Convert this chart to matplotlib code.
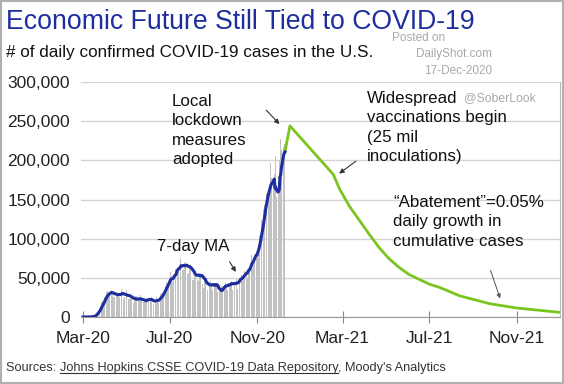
import datetime as dt
import numpy as np
import pandas as pd
import matplotlib
matplotlib.use("Agg")
import matplotlib.pyplot as plt
import matplotlib.dates as mdates
from matplotlib.ticker import FuncFormatter

plt.rcParams['font.family'] = ['Liberation Sans', 'DejaVu Sans']

# daily confirmed cases (thousands), Mar 1 - Dec 10 2020
mar = [0, 0, 0, 0, 0, 0, 0.1, 0.1, 0.2, 0.3,
       0.3, 0.5, 0.4, 0.8, 0.9, 1.2, 1.8, 2.8, 4.5, 5.6,
       6.9, 9.1, 10.5, 9.9, 12.0, 17.8, 18.7, 20.0, 19.5, 21.0,
       25.0]
apr = [27, 29, 32, 33, 26, 29, 31, 32, 34, 34,
       30, 27, 26, 26, 30, 31, 32, 28, 26, 28,
       26, 29, 32, 36, 33, 27, 23, 25, 27, 30]
may = [34, 29, 25, 23, 23, 25, 28, 28, 26, 20,
       18, 22, 21, 27, 27, 25, 19, 22, 20, 22,
       28, 24, 22, 19, 19, 19, 19, 23, 24, 26,
       23]
jun = [21, 21, 20, 21, 25, 24, 18, 17, 18, 21,
       22, 25, 25, 19, 18, 23, 27, 29, 31, 32,
       27, 30, 35, 38, 40, 45, 43, 42, 46, 47]
jul = [52, 57, 52, 44, 45, 50, 60, 62, 61, 63,
       66, 59, 58, 63, 67, 75, 71, 63, 60, 61,
       63, 69, 70, 74, 66, 55, 56, 60, 67, 68,
       68]
aug = [58, 47, 47, 52, 53, 59, 61, 54, 47, 46,
       55, 53, 51, 64, 55, 42, 37, 46, 47, 47,
       45, 44, 34, 36, 38, 44, 46, 46, 43, 35,
       34]
sep = [42, 39, 43, 53, 43, 32, 24, 25, 33, 36,
       47, 40, 34, 33, 37, 39, 45, 48, 42, 35,
       38, 40, 39, 45, 55, 46, 35, 36, 42, 41]
octo = [45, 54, 49, 36, 41, 44, 50, 58, 58, 53,
        46, 43, 53, 59, 64, 69, 56, 48, 58, 62,
        63, 76, 83, 79, 61, 66, 74, 79, 89, 99,
        81]
nov = [75, 85, 92, 104, 120, 128, 124, 108, 118, 138,
       143, 161, 178, 158, 137, 160, 162, 170, 187, 196,
       178, 144, 170, 176, 182, 106, 205, 153, 139, 156]
dec = [180, 200, 217, 227, 213, 176, 194, 217, 221, 227]

daily = np.array(mar + apr + may + jun + jul + aug + sep + octo + nov + dec) * 1000
days = pd.date_range('2020-03-01', periods=len(daily), freq='D')
ma7 = pd.Series(daily, index=days).rolling(7, min_periods=1).mean()

# Moody's projection
proj_dates = ['2020-12-10', '2020-12-17', '2021-02-16', '2021-02-25', '2021-03-11',
              '2021-03-25', '2021-04-08', '2021-04-22', '2021-05-06', '2021-05-20',
              '2021-06-03', '2021-06-17', '2021-07-01', '2021-07-15', '2021-08-13',
              '2021-09-24', '2021-11-01', '2021-12-31']
proj_vals = [ma7.iloc[-1], 244000, 182000, 163000, 141000,
             123000, 105000, 88000, 74000, 63000,
             54000, 48000, 42000, 38000, 27000,
             17000, 11500, 6000]
proj_dates = pd.to_datetime(proj_dates)

fig = plt.figure(figsize=(5.64, 3.84), dpi=100)
ax = fig.add_axes([81/564, 1-317/384, 479/564, 235/384])

ax.bar(days, daily, width=0.75, color='#c2c2c2', zorder=1)
ax.plot(proj_dates, proj_vals, color='#7ac51e', lw=2.0, zorder=3)
ax.plot(ma7.index, ma7.values, color='#1f2e9e', lw=2.2, zorder=4)

ax.set_ylim(0, 300000)
ax.set_xlim(dt.datetime(2020, 2, 27), dt.datetime(2022, 1, 1))
ax.set_yticks(np.arange(0, 300001, 50000))
ax.yaxis.set_major_formatter(FuncFormatter(lambda v, p: '{:,.0f}'.format(v)))
ax.set_xticks([dt.datetime(2020, 3, 1), dt.datetime(2020, 7, 1), dt.datetime(2020, 11, 1),
               dt.datetime(2021, 3, 1), dt.datetime(2021, 7, 1), dt.datetime(2021, 11, 1)])
ax.xaxis.set_major_formatter(mdates.DateFormatter('%b-%y'))
ax.grid(axis='y', color='#d4d4d4', lw=1)
ax.set_axisbelow(True)
ax.tick_params(axis='y', length=0, labelsize=12.5, colors='#222222', pad=8)
ax.tick_params(axis='x', direction='inout', length=8, color='#888888',
               labelsize=12.5, labelcolor='#222222', pad=6)
for s in ['top', 'left']:
    ax.spines[s].set_visible(False)
ax.spines['right'].set_color('#bbbbbb')
ax.spines['bottom'].set_color('#999999')

# annotations
arw = dict(arrowstyle='-|>', color='#333333', lw=0.8, mutation_scale=7)
ax.text(dt.datetime(2020, 7, 4), 285000, 'Local\nlockdown\nmeasures\nadopted',
        fontsize=12.2, va='top', linespacing=1.38, color='#111111')
ax.annotate('', xy=(dt.datetime(2020, 12, 5), 243600), xytext=(dt.datetime(2020, 11, 11), 266600),
            arrowprops=arw)
ax.text(dt.datetime(2020, 6, 13), 84000, '7-day MA', fontsize=12.2, color='#111111')
ax.annotate('', xy=(dt.datetime(2020, 10, 4), 54500), xytext=(dt.datetime(2020, 9, 21), 73600),
            arrowprops=arw)
ax.text(dt.datetime(2021, 4, 4), 289000, 'Widespread\nvaccinations begin\n(25 mil\ninoculations)',
        fontsize=12.2, va='top', linespacing=1.38, color='#111111')
ax.annotate('', xy=(dt.datetime(2021, 2, 21), 181000), xytext=(dt.datetime(2021, 3, 23), 201000),
            arrowprops=arw)
ax.text(dt.datetime(2021, 5, 11), 156000, '\u201cAbatement\u201d=0.05%\ndaily growth in\ncumulative cases',
        fontsize=12.2, va='top', linespacing=1.38, color='#111111')
ax.annotate('', xy=(dt.datetime(2021, 10, 10), 20400), xytext=(dt.datetime(2021, 9, 24), 62900),
            arrowprops=dict(arrowstyle='-|>', color='#555555', lw=0.7, mutation_scale=6))

# titles and notes
fig.text(6/564, 1-29/384, 'Economic Future Still Tied to COVID-19', fontsize=19.2,
         color='#1f2e9e', va='baseline')
fig.text(6/564, 1-57/384, '# of daily confirmed COVID-19 cases in the U.S.', fontsize=12.3,
         color='#111111', va='baseline')
fig.text(445/564, 1-41/384, 'Posted on', fontsize=8.5, color='#a8a8a8', ha='right', va='baseline')
fig.text(492/564, 1-57/384, 'DailyShot.com', fontsize=8.5, color='#a8a8a8', ha='right', va='baseline')
fig.text(492/564, 1-74/384, '17-Dec-2020', fontsize=8.5, color='#a8a8a8', ha='right', va='baseline')
fig.text(464/564, 1-101/384, '@SoberLook', fontsize=8.8, color='#a8a8a8', va='baseline')

fig.canvas.draw()
r = fig.canvas.get_renderer()
t1 = fig.text(6/564, 1-371/384, 'Sources: ', fontsize=9.2, color='#333333', va='baseline')
b1 = t1.get_window_extent(r)
t2 = fig.text(b1.x1/564, 1-371/384, 'Johns Hopkins CSSE COVID-19 Data Repository',
              fontsize=9.2, color='#333333', va='baseline')
b2 = t2.get_window_extent(r)
fig.add_artist(plt.Line2D([b2.x0/564, b2.x1/564], [(1-373/384), (1-373/384)],
                          color='#333333', lw=0.8))
fig.text(b2.x1/564, 1-371/384, ", Moody's Analytics", fontsize=9.2, color='#333333', va='baseline')

# outer frame
fig.add_artist(plt.Rectangle((0.002, 0.003), 0.996, 0.994, fill=False,
                             edgecolor='#b0b0b0', lw=1.5, transform=fig.transFigure))

fig.savefig('out.png', dpi=100)
